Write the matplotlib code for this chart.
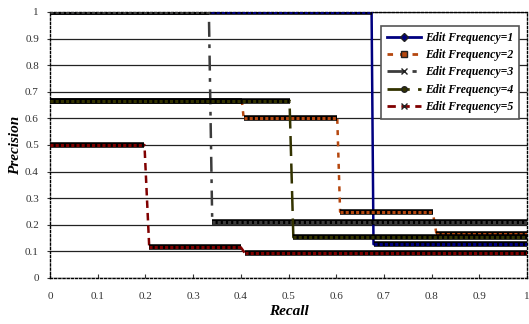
import matplotlib
matplotlib.use("Agg")
import matplotlib.pyplot as plt
from matplotlib.lines import Line2D

plt.rcParams['font.family'] = ['Liberation Serif', 'DejaVu Serif']

# step curves: recall / precision breakpoints per series
labels = ["Edit Frequency=1", "Edit Frequency=2", "Edit Frequency=3",
          "Edit Frequency=4", "Edit Frequency=5"]
recall = [
    [0.0, 0.674, 0.678, 1.0],
    [0.0, 0.402, 0.406, 0.602, 0.608, 0.802, 0.81, 1.0],
    [0.0, 0.333, 0.34, 1.0],
    [0.0, 0.502, 0.51, 1.0],
    [0.0, 0.198, 0.208, 0.40, 0.408, 1.0],
]
precision = [
    [1.0, 1.0, 0.127, 0.127],
    [0.667, 0.667, 0.60, 0.60, 0.249, 0.249, 0.165, 0.165],
    [1.0, 1.0, 0.212, 0.212],
    [0.667, 0.667, 0.153, 0.153],
    [0.5, 0.5, 0.115, 0.115, 0.095, 0.095],
]
colors = ["#000080", "#B5470F", "#3C3C3C", "#333300", "#800000"]
styles = ["-", (0, (2, 2.5)), (0, (6, 3, 1.5, 3)), (0, (8, 3)), (0, (3, 2))]
markers = ["D", "s", "x", "o", "x"]

fontsize = 8

fig = plt.figure(figsize=(5.29, 3.24), dpi=100)
ax = fig.add_axes([0.0945, 0.142, 0.902, 0.821])

for i in range(5):
    xs, ys = recall[i], precision[i]
    # transitions
    ax.plot(xs, ys, color=colors[i], linestyle=styles[i], linewidth=1.8, zorder=3 + i)
    # flat parts drawn as a chain of small marks
    for j in range(len(xs) - 1):
        if ys[j] == ys[j + 1]:
            ax.plot([xs[j], xs[j + 1]], [ys[j], ys[j]], color="black",
                    linewidth=4.0, solid_capstyle="butt", zorder=3 + i)
            ax.plot([xs[j], xs[j + 1]], [ys[j], ys[j]], color=colors[i],
                    linewidth=2.2, linestyle=(0, (1.0, 0.7)), zorder=3 + i)

ax.set_xlim(0, 1)
ax.set_ylim(0, 1)
ax.set_xticks([i / 10 for i in range(11)])
ax.set_yticks([i / 10 for i in range(11)])
ax.set_xticklabels(["0", "0.1", "0.2", "0.3", "0.4", "0.5", "0.6", "0.7", "0.8", "0.9", "1"])
ax.set_yticklabels(["0", "0.1", "0.2", "0.3", "0.4", "0.5", "0.6", "0.7", "0.8", "0.9", "1"])
ax.tick_params(axis="x", direction="in", length=3, labelsize=fontsize, pad=10, colors="#333333")
ax.tick_params(axis="y", direction="out", length=2, labelsize=fontsize, pad=6, colors="#333333")
ax.yaxis.grid(True, color="#222222", linewidth=0.9)
ax.set_axisbelow(True)
for side in ["left", "right", "top", "bottom"]:
    ax.spines[side].set_linestyle((0, (1.5, 1.5)))
    ax.spines[side].set_linewidth(1.0)
    ax.spines[side].set_color("black")

ax.set_xlabel("Recall", fontsize=11, fontweight="bold", fontstyle="italic", labelpad=3)
ax.set_ylabel("Precision", fontsize=11, fontweight="bold", fontstyle="italic", labelpad=2)

handles = [Line2D([0], [0], color=colors[i], linestyle=styles[i], linewidth=2,
                  marker=markers[i], markersize=4, markeredgecolor="#222222")
           for i in range(5)]
leg = ax.legend(handles, labels, loc="upper right", bbox_to_anchor=(0.996, 0.970),
                prop={"weight": "bold", "style": "italic", "size": 8.5},
                handlelength=2.9, fancybox=False, framealpha=1, borderpad=0.5,
                labelspacing=0.45, handletextpad=0.35, borderaxespad=0.5)
leg.get_frame().set_edgecolor("#555555")
leg.get_frame().set_linewidth(1.2)
leg.set_zorder(20)

plt.savefig("out.png", dpi=100)
